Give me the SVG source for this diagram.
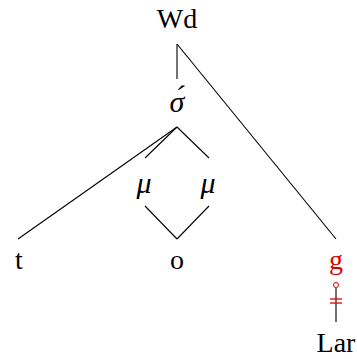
<svg xmlns="http://www.w3.org/2000/svg" width="357" height="359" viewBox="0 0 357 359">
<style>
text{font-family:"Liberation Serif","DejaVu Serif",serif;font-size:28px;text-anchor:middle;fill:#000}
.it{font-style:italic;font-size:30px}
.red{fill:#e00000}
.ln{stroke:#000;stroke-width:1.1;fill:none}
</style>
<rect width="357" height="359" fill="#fff"/>
<g id="connectors">
<line class="ln" x1="177" y1="44" x2="177" y2="79"/>
<line class="ln" x1="177" y1="44" x2="336" y2="239"/>
<line class="ln" x1="177" y1="127" x2="18" y2="239"/>
<line class="ln" x1="177" y1="127" x2="145" y2="158"/>
<line class="ln" x1="177" y1="127" x2="209" y2="158"/>
<line class="ln" x1="145" y1="206" x2="177" y2="239"/>
<line class="ln" x1="209" y1="206" x2="177" y2="239"/>
<line class="ln" x1="336" y1="288" x2="336" y2="322"/>
<circle cx="336" cy="285" r="2.5" fill="#fff" stroke="#e00000" stroke-width="1"/>
<line x1="330" y1="299" x2="342" y2="299" stroke="#e00000" stroke-width="1.3"/>
<line x1="330" y1="303" x2="342" y2="303" stroke="#e00000" stroke-width="1.3"/>
</g>
<g id="Wd"><text x="177" y="28">Wd</text></g>
<g id="sigma"><text class="it" x="177" y="112">σ́</text></g>
<g id="mu1"><text class="it" x="144" y="193">μ</text></g>
<g id="mu2"><text class="it" x="208" y="193">μ</text></g>
<g id="t"><text x="19" y="269">t</text></g>
<g id="o"><text x="177" y="269">o</text></g>
<g id="g"><text class="red" x="336" y="269">g</text></g>
<g id="Lar"><text x="336" y="352">Lar</text></g>
</svg>
